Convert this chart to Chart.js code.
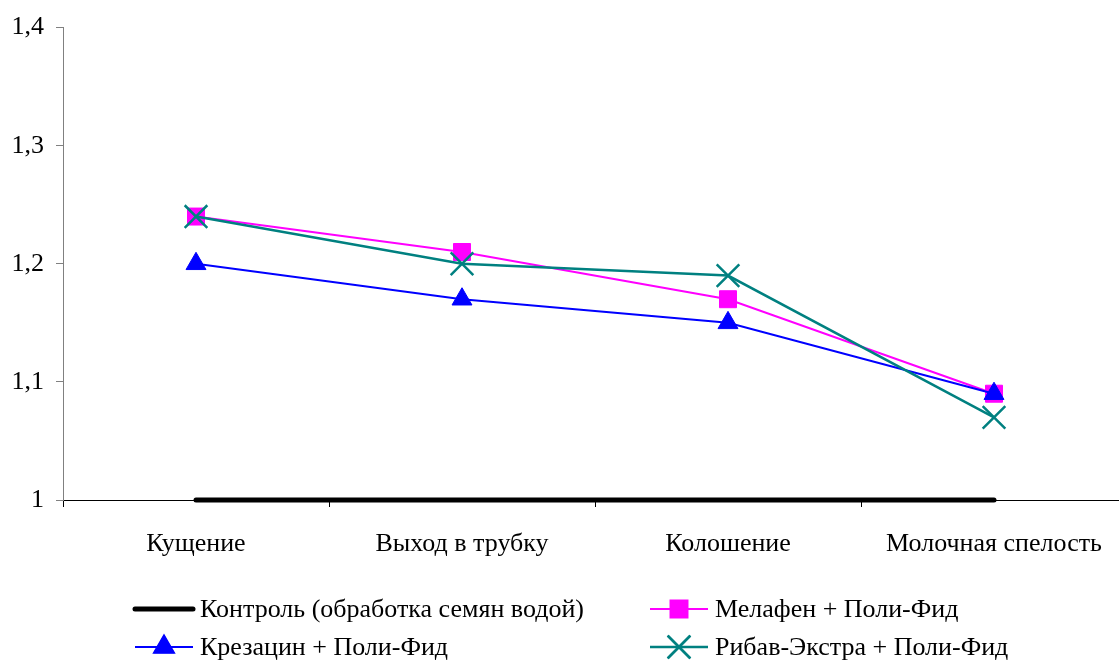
<!DOCTYPE html>
<html>
<head>
<meta charset="utf-8">
<script src="https://cdn.jsdelivr.net/npm/chart.js@4/dist/chart.umd.min.js"></script>
<style>
  html, body { margin: 0; padding: 0; background: #fff; overflow: hidden; }
  #wrap { position: relative; width: 1128px; height: 662px; }
  canvas { display: block; }
</style>
</head>
<body>
<div id="wrap"><canvas id="chart_phaseDynamics" width="1128" height="662"></canvas></div>
<script>
// categories (growth phases)
var stages = ['Кущение', 'Выход в трубку', 'Колошение', 'Молочная спелость'];
// series values
var controlValues  = [1, 1, 1, 1];
var melafenValues  = [1.24, 1.21, 1.17, 1.09];
var krezacinValues = [1.20, 1.17, 1.15, 1.09];
var ribavValues    = [1.24, 1.20, 1.19, 1.07];
// y tick labels
var yTickValues = [1, 1.1, 1.2, 1.3, 1.4];
var yTickLabels = ['1', '1,1', '1,2', '1,3', '1,4'];

var serif = "'Liberation Serif', 'Times New Roman', serif";

var legendPlugin = {
    id: 'gridLegend',
    afterDraw: function (chart) {
        var ctx = chart.ctx;
        var sets = chart.data.datasets;
        // two columns, two rows
        var cols = [135, 650];
        var rows = [609, 647];
        ctx.save();
        sets.forEach(function (ds, i) {
            var x = cols[i % 2], y = rows[Math.floor(i / 2)];
            ctx.strokeStyle = ds.borderColor;
            ctx.lineWidth = ds.borderWidth;
            ctx.lineCap = ds.borderCapStyle || 'butt';
            ctx.beginPath();
            ctx.moveTo(x, y);
            ctx.lineTo(x + 58, y);
            ctx.stroke();
            if (ds.pointRadius > 0) {
                Chart.helpers.drawPoint(ctx, {
                    pointStyle: ds.pointStyle,
                    radius: ds.pointRadius,
                    rotation: 0,
                    borderWidth: ds.pointBorderWidth
                }, x + 29, y);
                ctx.fillStyle = ds.pointBackgroundColor;
                ctx.strokeStyle = ds.pointBorderColor;
                ctx.lineWidth = ds.pointBorderWidth;
                if (ds.pointStyle !== 'crossRot') ctx.fill();
                ctx.stroke();
            }
            ctx.fillStyle = '#000';
            ctx.font = '26px ' + serif;
            ctx.textBaseline = 'middle';
            ctx.textAlign = 'left';
            ctx.fillText(ds.label, x + 65, y + 1);
        });
        ctx.restore();
    }
};

var chart_phaseDynamics = new Chart(document.getElementById('chart_phaseDynamics'), {
    type: 'line',
    data: {
        labels: stages,
        datasets: [
            {
                label: 'Контроль (обработка семян водой)',
                data: controlValues,
                borderColor: '#000000',
                backgroundColor: '#000000',
                borderWidth: 5,
                borderCapStyle: 'round',
                pointRadius: 0,
                clip: false,
                order: 3
            },
            {
                label: 'Мелафен + Поли-Фид',
                data: melafenValues,
                borderColor: '#FF00FF',
                backgroundColor: '#FF00FF',
                borderWidth: 2,
                pointStyle: 'rect',
                pointRadius: 12,
                pointBackgroundColor: '#FF00FF',
                pointBorderColor: '#FF00FF',
                pointBorderWidth: 1,
                order: 2
            },
            {
                label: 'Крезацин + Поли-Фид',
                data: krezacinValues,
                borderColor: '#0000FF',
                backgroundColor: '#0000FF',
                borderWidth: 2,
                pointStyle: 'triangle',
                pointRadius: 11.5,
                pointBackgroundColor: '#0000FF',
                pointBorderColor: '#0000FF',
                pointBorderWidth: 1,
                order: 1
            },
            {
                label: 'Рибав-Экстра + Поли-Фид',
                data: ribavValues,
                borderColor: '#008080',
                backgroundColor: '#008080',
                borderWidth: 2.5,
                pointStyle: 'crossRot',
                pointRadius: 16,
                pointBackgroundColor: '#008080',
                pointBorderColor: '#008080',
                pointBorderWidth: 2.5,
                order: 0
            }
        ]
    },
    options: {
        animation: false,
        responsive: false,
        maintainAspectRatio: false,
        devicePixelRatio: 1,
        layout: { autoPadding: false, padding: { top: 27, left: 0, right: 1, bottom: 0 } },
        plugins: {
            legend: { display: false },
            tooltip: { enabled: false },
            title: { display: false }
        },
        scales: {
            x: {
                type: 'category',
                offset: true,
                grid: {
                    offset: true,
                    drawOnChartArea: false,
                    drawTicks: true,
                    tickLength: 7,
                    color: '#000000'
                },
                border: { color: '#000000', width: 1 },
                ticks: {
                    color: '#000000',
                    font: { family: serif, size: 26 },
                    padding: 22,
                    maxRotation: 0,
                    autoSkip: false
                },
                afterFit: function (scale) {
                    scale.height = 162;
                    scale.paddingLeft = 0;
                    scale.paddingRight = 0;
                }
            },
            y: {
                type: 'linear',
                min: 1,
                max: 1.4,
                afterBuildTicks: function (scale) {
                    scale.ticks = yTickValues.map(function (v) { return { value: v }; });
                },
                grid: {
                    drawOnChartArea: false,
                    drawTicks: true,
                    tickLength: 7,
                    color: '#808080'
                },
                border: { color: '#808080', width: 1 },
                ticks: {
                    color: '#000000',
                    font: { family: serif, size: 26 },
                    padding: 12,
                    callback: function (value) {
                        var i = yTickValues.findIndex(function (v) { return Math.abs(v - value) < 1e-9; });
                        return i >= 0 ? yTickLabels[i] : '';
                    }
                },
                afterFit: function (scale) { scale.width = 63; }
            }
        }
    },
    plugins: [legendPlugin, {
        id: 'whiteBg',
        beforeDraw: function (chart) {
            var ctx = chart.canvas.getContext('2d');
            ctx.save();
            ctx.globalCompositeOperation = 'destination-over';
            ctx.fillStyle = 'white';
            ctx.fillRect(0, 0, chart.canvas.width, chart.canvas.height);
            ctx.restore();
        }
    }]
});
</script>
</body>
</html>
